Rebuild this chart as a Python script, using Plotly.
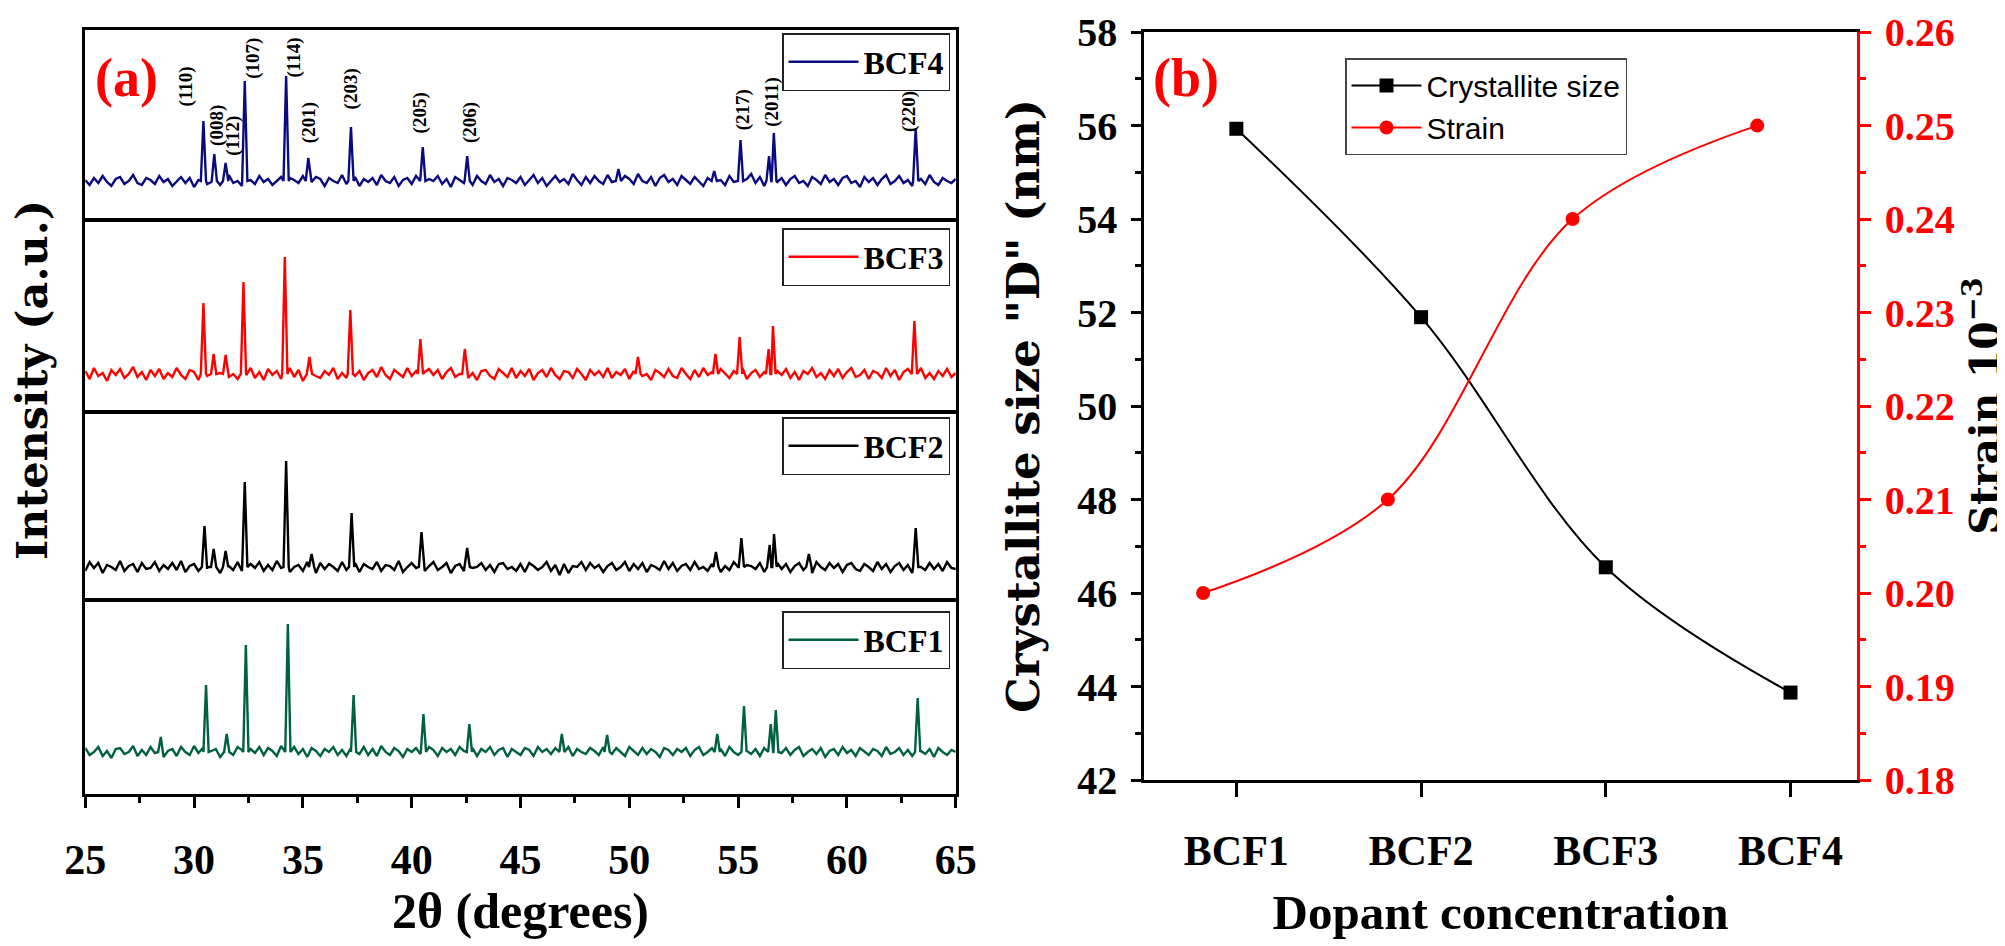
import plotly.graph_objects as go

# ---------------- DATA ----------------
# Panel (a): XRD patterns. Baseline level + roughness estimated every 0.2 deg from 25 to 65 deg
two_theta_start = 25.0
two_theta_step = 0.2
baseline_level = 100

noise_bcf4 = [1,-4,3,-2,5,-1,-5,2,4,-3,0,6,-2,-4,3,1,-3,5,-1,2,
              -5,0,4,-2,3,-6,1,5,-3,-1,4,-4,2,6,-2,0,-5,3,1,-3,
              5,-1,2,-4,0,4,-6,3,1,-2,5,-3,-1,4,2,-5,3,0,-2,6,
              -3,1,4,-5,2,-1,3,-4,6,0,-2,4,-5,1,3,-3,5,-1,-4,2,
              0,5,-3,2,-6,4,1,-2,3,-4,5,0,-3,6,-1,2,-5,3,1,-2,
              4,-4,1,6,-2,3,-5,0,5,-1,2,-3,7,1,-4,4,-2,5,0,-3,
              6,-1,3,-4,5,2,-3,7,0,-2,4,-5,3,6,-1,2,-4,5,1,-3,
              4,0,-5,3,-2,6,1,-4,5,-1,3,-3,2,7,-2,4,-5,1,6,-1,
              3,-4,2,5,-2,0,-5,4,1,-3,6,-1,2,-4,3,5,-2,0,-6,4,
              -1,3,-4,2,6,-3,0,5,-2,1,-5,4,2,-3,6,-1,-4,3,0,-2,
              2]
noise_bcf3 = [3,-5,6,-2,1,-7,4,-1,5,-4,0,7,-3,2,-6,4,-2,5,-5,1,
              -3,6,-1,-5,4,2,-6,3,-2,5,-4,1,7,-3,0,-5,4,-1,6,-4,
              2,-6,5,-1,3,-5,0,6,-3,4,-7,2,5,-2,-4,3,-1,6,-5,1,
              -4,5,-2,3,-6,1,4,-3,7,-1,-5,4,0,-3,6,-2,3,-6,2,5,
              -1,4,-5,2,6,-3,0,5,-4,1,-6,3,4,-2,-5,5,1,-3,6,-4,
              3,-2,5,-6,1,4,-3,6,-1,-5,3,2,-4,5,0,-6,4,-1,3,-3,
              6,-4,2,-1,5,-5,3,7,-2,0,-6,4,1,-3,5,-2,-4,6,0,-5,
              4,-3,6,-1,2,-6,5,0,-4,3,-2,6,-5,1,4,-3,2,5,-6,3,
              -1,5,-4,2,-6,3,0,6,-3,1,-5,4,-2,5,-4,2,6,-3,-1,4,
              -5,3,1,-4,6,-2,4,-6,2,5,-3,0,6,-4,1,-5,3,-2,5,-3,
              1]
noise_bcf2 = [-4,5,-1,4,-6,2,0,-3,6,-4,1,3,-5,4,-2,-1,5,-4,2,-2,
              4,-3,6,-5,1,3,-4,5,-2,0,4,-6,2,1,-3,5,-4,0,3,-1,
              5,-4,2,-3,6,-1,3,-5,0,2,-4,5,1,-6,4,-2,3,0,-4,5,
              -3,1,4,-5,3,0,-2,5,-4,2,1,-3,6,-5,0,4,-1,2,-4,1,
              5,-3,0,4,-6,1,3,-4,5,-1,0,4,-3,2,-5,3,4,-2,0,-4,
              3,-5,4,1,-3,0,5,-4,2,-8,3,-6,1,0,5,-3,4,-1,2,-5,
              1,4,-3,0,5,-4,3,-2,4,-5,2,0,-3,6,-2,4,-4,1,3,-3,
              5,-2,0,-4,3,4,-5,1,-3,5,0,-4,2,1,-2,4,-5,3,0,4,
              -2,3,-5,1,4,-3,2,-6,5,0,-3,4,-1,3,-5,2,4,-2,-4,3,
              0,-4,5,-2,3,-5,1,4,-3,2,-6,5,0,-3,4,-2,3,-4,5,-1,
              -2]
noise_bcf1 = [4,-3,0,5,-4,1,-6,3,4,-2,0,6,-4,2,-3,5,-1,4,-5,1,
              3,-4,5,0,-3,6,-1,4,-4,1,3,-5,4,0,-3,5,2,-4,3,-1,
              5,-3,4,1,-4,6,0,-3,5,-2,3,-5,4,1,-4,3,0,5,-3,2,
              -4,4,0,-2,5,-3,3,-4,6,0,-3,4,1,-5,3,0,4,-2,-3,5,
              2,-4,4,0,3,-3,5,1,-2,4,-4,3,0,5,-3,2,4,-5,3,0,
              -3,4,2,-4,5,0,3,-2,4,-7,2,5,-4,3,0,-2,4,1,-3,5,
              3,-2,4,0,-4,5,1,-3,4,-2,3,0,-5,4,2,-3,3,0,4,-4,
              2,5,-3,0,4,-2,3,-4,5,0,-3,4,1,-2,3,-4,4,0,-3,2,
              -1,4,-3,2,5,-4,0,3,-2,4,-5,1,3,-3,5,-1,2,-4,4,0,
              -3,3,1,-4,5,-2,0,4,-3,2,-4,5,1,-2,3,-5,4,0,-3,2,
              0]

# Reflections: position (2theta, deg) and height above baseline (a.u.)
peaks_bcf4_pos = [30.43, 30.93, 31.45, 32.33, 34.23, 35.25, 37.21, 40.51, 42.55, 49.5, 53.9, 55.11, 56.42, 56.64, 63.16]
peaks_bcf4_int = [60, 27, 18, 100, 105, 23, 54, 34, 25, 12, 10, 41, 25, 48, 52]
peaks_bcf3_pos = [30.43, 30.90, 31.45, 32.27, 34.17, 35.30, 37.18, 40.40, 42.44, 50.4, 53.96, 55.07, 56.40, 56.60, 63.10]
peaks_bcf3_int = [71, 20, 19, 92, 117, 17, 64, 35, 25, 17, 20, 37, 25, 48, 53]
peaks_bcf2_pos = [30.48, 30.90, 31.45, 32.33, 34.23, 35.40, 37.24, 40.45, 42.55, 53.98, 55.15, 56.45, 56.65, 58.25, 63.16]
peaks_bcf2_int = [41, 18, 16, 85, 106, 13, 54, 35, 19, 15, 29, 22, 33, 13, 39]
peaks_bcf1_pos = [28.47, 30.55, 31.50, 32.38, 34.31, 37.33, 40.54, 42.65, 46.9, 48.98, 54.04, 55.27, 56.50, 56.73, 63.25]
peaks_bcf1_int = [15, 67, 18, 107, 128, 57, 38, 28, 18, 17, 18, 46, 28, 42, 54]

hkl_labels = ["(110)", "(008)", "(112)", "(107)", "(114)", "(201)", "(203)", "(205)", "(206)", "(217)", "(2011)", "(220)"]
hkl_two_theta = [29.65, 31.05, 31.78, 32.7, 34.57, 35.29, 37.23, 40.4, 42.68, 55.24, 56.55, 62.85]

# Panel (b)
categories = ["BCF1", "BCF2", "BCF3", "BCF4"]
crystallite_size = [55.93, 51.9, 46.55, 43.87]
strain = [0.200, 0.210, 0.240, 0.250]

# ---------------- STYLE / LAYOUT ----------------
W, H = 2005, 946
SERIF = "Liberation Serif"
WIDE = "DejaVu Serif"
SANS = "Liberation Sans"
LW = 2.5

series = [
    ("BCF1", noise_bcf1, peaks_bcf1_pos, peaks_bcf1_int, "#00613f", "x", "y", "legend"),
    ("BCF2", noise_bcf2, peaks_bcf2_pos, peaks_bcf2_int, "#000000", "x2", "y2", "legend2"),
    ("BCF3", noise_bcf3, peaks_bcf3_pos, peaks_bcf3_int, "#ff0000", "x3", "y3", "legend3"),
    ("BCF4", noise_bcf4, peaks_bcf4_pos, peaks_bcf4_int, "#0b0b80", "x4", "y4", "legend4"),
]
# panel frame line centres in pixels (top, bottom) and baseline pixel row
panel_px = {"BCF1": (592, 787, 744), "BCF2": (404, 592, 559), "BCF3": (212, 404, 366), "BCF4": (21, 212, 173)}
legend_top_px = {"BCF1": 603, "BCF2": 409, "BCF3": 220, "BCF4": 25}
AX_L, AX_R = 76, 949
BX_L, BX_R, BY_T, BY_B = 1136, 1849, 24, 772


def px(x):
    return x / W


def py(y):
    return 1 - y / H


def build_pattern(noise, pos, hgt, hw=0.12):
    pts = []
    for i, n in enumerate(noise):
        t = two_theta_start + two_theta_step * i
        if any(abs(t - p) <= hw for p in pos):
            continue
        pts.append((t, baseline_level + n))
    for p, h in zip(pos, hgt):
        pts += [(p - hw, baseline_level), (p, baseline_level + h), (p + hw, baseline_level)]
    pts.sort()
    return [a for a, _ in pts], [b for _, b in pts]


fig = go.Figure()
layout = dict(
    width=W, height=H, margin=dict(l=0, r=0, t=0, b=0, autoexpand=False),
    paper_bgcolor="white", plot_bgcolor="white", showlegend=True,
    font=dict(family=SERIF, color="black"),
)

half = LW / 2
for name, noise, pos, hgt, col, xa, ya, lg in series:
    xs, ys = build_pattern(noise, pos, hgt)
    fig.add_trace(go.Scatter(x=xs, y=ys, mode="lines", name=name, xaxis=xa, yaxis=ya,
                             line=dict(color=col, width=2.4), legend=lg, showlegend=True))
    top, bot, base = panel_px[name]
    dtop, dbot = top + half, bot - half
    lo = baseline_level - (dbot - base)
    hi = lo + (dbot - dtop)
    xkey = "xaxis" + xa[1:]
    ykey = "yaxis" + ya[1:]
    is_bottom = name == "BCF1"
    xdef = dict(domain=[px(AX_L + half), px(AX_R - half)], anchor=ya, range=[25, 65], showline=True, mirror=True,
                linewidth=LW, linecolor="black", showgrid=False, zeroline=False, automargin=False)
    if is_bottom:
        xdef.update(ticks="outside", ticklen=11, tickwidth=LW, tickcolor="black", tick0=25, dtick=5,
                    tickfont=dict(family=SERIF, size=42, weight="bold"), ticklabelstandoff=16,
                    ticklabeloverflow="allow",
                    minor=dict(ticks="outside", ticklen=6, tickwidth=LW, dtick=2.5, tick0=25, tickcolor="black"),
                    title=dict(text="2θ (degrees)", font=dict(family=SERIF, size=50, weight="bold"), standoff=10))
    else:
        xdef.update(ticks="", showticklabels=False)
    layout[xkey] = xdef
    layout[ykey] = dict(domain=[py(dbot), py(dtop)], anchor=xa, range=[lo, hi], showline=True, mirror=True,
                        linewidth=LW, linecolor="black", ticks="", showticklabels=False,
                        showgrid=False, zeroline=False, automargin=False)
    layout[lg] = dict(x=px(942), y=py(legend_top_px[name]), xanchor="right", yanchor="top",
                      bordercolor="#222", borderwidth=1.5, bgcolor="white", itemwidth=70,
                      font=dict(family=SERIF, size=32, weight="bold"))

# Panel (b)
fig.add_trace(go.Scatter(x=categories, y=crystallite_size, mode="lines+markers", name="Crystallite size",
                         xaxis="x5", yaxis="y5", legend="legend5",
                         line=dict(color="black", width=2, shape="spline"),
                         marker=dict(symbol="square", size=14, color="black")))
fig.add_trace(go.Scatter(x=categories, y=strain, mode="lines+markers", name="Strain",
                         xaxis="x6", yaxis="y6", legend="legend5",
                         line=dict(color="red", width=2, shape="spline"),
                         marker=dict(symbol="circle", size=14, color="red")))

layout["xaxis5"] = dict(domain=[px(BX_L), px(BX_R)], anchor="y5", type="category", range=[-0.5, 3.36],
                        showline=True, mirror=True, linewidth=LW, linecolor="black",
                        ticks="outside", ticklen=14, tickwidth=LW, tickcolor="black",
                        tickfont=dict(family=SERIF, size=42, weight="bold"), ticklabelstandoff=18,
                        showgrid=False, zeroline=False, automargin=False,
                        title=dict(text="Dopant concentration", font=dict(family=SERIF, size=49, weight="bold"),
                                   standoff=22))
layout["xaxis6"] = dict(overlaying="x5", anchor="y5", type="category", range=[-0.32, 3.54], visible=False,
                        automargin=False)
layout["xaxis7"] = dict(overlaying="x5", anchor="y5", range=[-0.5, 3.36], tickmode="linear", tick0=0.5, dtick=1,
                        ticks="outside", ticklen=8, tickwidth=LW, tickcolor="black", showticklabels=False,
                        showline=False, showgrid=False, zeroline=False, automargin=False)
layout["yaxis5"] = dict(domain=[py(BY_B), py(BY_T)], anchor="x5", range=[42, 58], dtick=2, tick0=42,
                        showline=True, linewidth=LW, linecolor="black", ticks="outside", ticklen=10,
                        tickwidth=LW, tickcolor="black", ticklabelstandoff=6, ticklabeloverflow="allow",
                        tickfont=dict(family=SERIF, size=40, weight="bold"),
                        minor=dict(ticks="outside", ticklen=6, tickwidth=LW, dtick=1, tickcolor="black"),
                        showgrid=False, zeroline=False, automargin=False,
                        title=dict(text='Crystallite size "D" (nm)',
                                   font=dict(family=WIDE, size=45, weight="bold"), standoff=24))
layout["yaxis6"] = dict(overlaying="y5", anchor="x6", side="right", range=[0.18, 0.26001], dtick=0.01, tick0=0.18,
                        tickformat=".2f", showline=True, linewidth=LW, linecolor="red", ticks="outside",
                        ticklen=11, tickwidth=LW, tickcolor="red", ticklabelstandoff=6, ticklabeloverflow="allow",
                        tickfont=dict(family=SERIF, size=40, weight="bold", color="red"),
                        minor=dict(ticks="outside", ticklen=6, tickwidth=LW, dtick=0.005, tickcolor="red"),
                        showgrid=False, zeroline=False, automargin=False,
                        title=dict(text="Strain 10<sup>−3</sup>",
                                   font=dict(family=WIDE, size=41, weight="bold", color="black"), standoff=10))
layout["legend5"] = dict(x=px(1337), y=py(50), xanchor="left", yanchor="top", bordercolor="#444",
                         borderwidth=1.5, bgcolor="white", itemwidth=70,
                         font=dict(family=SANS, size=30, color="black"))

annotations = [
    dict(text="(a)", x=px(118), y=py(70), xref="paper", yref="paper", xanchor="center", yanchor="middle",
         showarrow=False, font=dict(family=SERIF, size=54, weight="bold", color="red")),
    dict(text="(b)", x=px(1178), y=py(70), xref="paper", yref="paper", xanchor="center", yanchor="middle",
         showarrow=False, font=dict(family=SERIF, size=54, weight="bold", color="red")),
    dict(text="Intensity (a.u.)", x=px(24), y=py(372), xref="paper", yref="paper", xanchor="center",
         yanchor="middle", showarrow=False, textangle=-90, font=dict(family=WIDE, size=43, weight="bold")),
]
label_px_rows = [78, 117, 128, 50, 50, 115, 81, 105, 115, 102, 94, 103]
top4, bot4, base4 = panel_px["BCF4"]
for lab, t, row in zip(hkl_labels, hkl_two_theta, label_px_rows):
    annotations.append(dict(text=lab, x=t, y=baseline_level + (base4 - row), xref="x4", yref="y4",
                            xanchor="center", yanchor="middle", showarrow=False, textangle=-90,
                            font=dict(family=SERIF, size=19, weight="bold")))
layout["annotations"] = annotations

fig.update_layout(**layout)
fig.write_html("out.html")
